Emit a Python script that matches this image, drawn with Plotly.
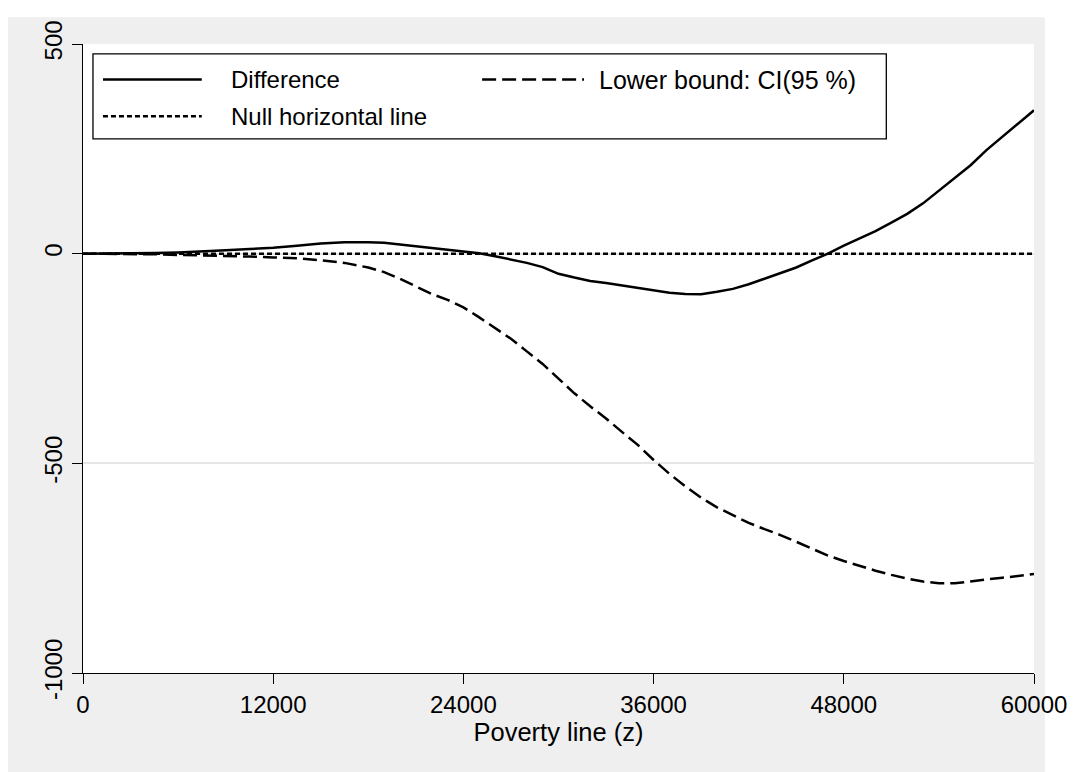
import plotly.graph_objects as go

# ---- data ----
z_diff = [0, 1500, 3000, 4500, 6000, 7500, 9000, 10500, 12000, 13500, 15000, 16500,
          18000, 19000, 20000, 21000, 22000, 23000, 24000, 25000, 26000, 27000, 28000,
          29000, 30000, 31000, 32000, 33000, 34000, 35000, 36000, 37000, 38000, 39000,
          40000, 41000, 42000, 43000, 44000, 45000, 46000, 47000, 48000, 49000, 50000,
          51000, 52000, 53000, 54000, 55000, 56000, 57000, 58000, 59000, 60000]
difference = [0, 0, 0.5, 1.5, 3, 5, 8, 11, 14, 19, 24, 27,
              27.5, 26, 22, 17, 14, 9, 5, 1, -6, -14, -22,
              -32, -48, -57, -65, -70, -76, -81, -87, -93, -96, -97,
              -91, -84, -73, -60, -47, -33, -16, 0, 19, 36, 54,
              74, 95, 120, 150, 179, 211, 247, 278, 310, 342]

z_lb = z_diff
lower_bound = [0, 0, -0.5, -1.5, -3, -4, -5, -7, -9, -11, -16, -22,
               -33, -44, -60, -78, -96, -110, -128, -152, -177, -203, -233,
               -263, -298, -333, -364, -393, -425, -456, -492, -525, -555, -582,
               -605, -624, -642, -657, -671, -687, -704, -720, -733, -745, -756,
               -766, -775, -782, -786, -786, -781, -777, -773, -768, -764]

null_x = [0, 60000]
null_y = [0, 0]

x_ticks = [0, 12000, 24000, 36000, 48000, 60000]
x_ticklabels = ["0", "12000", "24000", "36000", "48000", "60000"]
y_ticks = [-1000, -500, 0, 500]
y_ticklabels = ["-1000", "-500", "0", "500"]

legend_names = ["Difference", "Lower bound: CI(95 %)", "Null horizontal line"]

FONT = "Liberation Sans, Arial, Helvetica, sans-serif"
LW = 2.5

fig = go.Figure()
fig.add_trace(go.Scatter(x=null_x, y=null_y, mode="lines", name=legend_names[2],
                         line=dict(color="black", width=LW, dash="5px,3px")))
fig.add_trace(go.Scatter(x=z_lb, y=lower_bound, mode="lines", name=legend_names[1],
                         line=dict(color="black", width=LW, dash="14px,6px")))
fig.add_trace(go.Scatter(x=z_diff, y=difference, mode="lines", name=legend_names[0],
                         line=dict(color="black", width=LW)))

shapes = [
    # outer gray graph region
    dict(type="rect", xref="paper", yref="paper", x0=-0.1, x1=1.0115, y0=-0.2,
         y1=1.0425, fillcolor="#efefef", line=dict(width=0), layer="below"),
    # white plot region
    dict(type="rect", xref="x domain", yref="y domain", x0=0, x1=1, y0=0, y1=1,
         fillcolor="white", line=dict(width=0), layer="below"),
    # legend box
    dict(type="rect", xref="x domain", yref="y domain", x0=0.0105, x1=0.8447,
         y0=0.8491, y1=0.9843, fillcolor="white", line=dict(color="black", width=1.3)),
    # legend samples
    dict(type="line", xref="x domain", yref="y domain", x0=0.0210, x1=0.1249,
         y0=0.9434, y1=0.9434, line=dict(color="black", width=LW)),
    dict(type="line", xref="x domain", yref="y domain", x0=0.4197, x1=0.5268,
         y0=0.9434, y1=0.9434, line=dict(color="black", width=LW, dash="14px,6px")),
    dict(type="line", xref="x domain", yref="y domain", x0=0.0210, x1=0.1249,
         y0=0.8852, y1=0.8852, line=dict(color="black", width=LW, dash="5px,3px")),
]

annotations = [
    dict(xref="x domain", yref="y domain", x=0.1530, y=0.9434, text=legend_names[0],
         showarrow=False, xanchor="left", yanchor="middle", font=dict(size=24)),
    dict(xref="x domain", yref="y domain", x=0.5410, y=0.9434, text=legend_names[1],
         showarrow=False, xanchor="left", yanchor="middle", font=dict(size=25)),
    dict(xref="x domain", yref="y domain", x=0.1530, y=0.8852, text=legend_names[2],
         showarrow=False, xanchor="left", yanchor="middle", font=dict(size=24)),
]

fig.update_layout(
    width=1071, height=764,
    margin=dict(l=75, r=43, t=29, b=99),
    paper_bgcolor="white", plot_bgcolor="white",
    font=dict(family=FONT, color="black", size=24),
    showlegend=False,
    shapes=shapes, annotations=annotations,
    xaxis=dict(range=[0, 60000], tickvals=x_ticks, ticktext=x_ticklabels,
               showline=True, linecolor="black", linewidth=1.3,
               ticks="outside", ticklen=10, tickwidth=1.3, tickcolor="black",
               showgrid=False, zeroline=False,
               tickfont=dict(size=24),
               title=dict(text="Poverty line (z)", font=dict(size=25.5), standoff=0)),
    yaxis=dict(range=[-1000, 500], tickvals=y_ticks, ticktext=y_ticklabels,
               tickangle=-90,
               showline=True, linecolor="black", linewidth=1.3,
               ticks="outside", ticklen=10, tickwidth=1.3, tickcolor="black",
               showgrid=True, gridcolor="#e6e6e6", gridwidth=1.5, zeroline=False,
               tickfont=dict(size=24)),
)

fig.write_html("out.html")
